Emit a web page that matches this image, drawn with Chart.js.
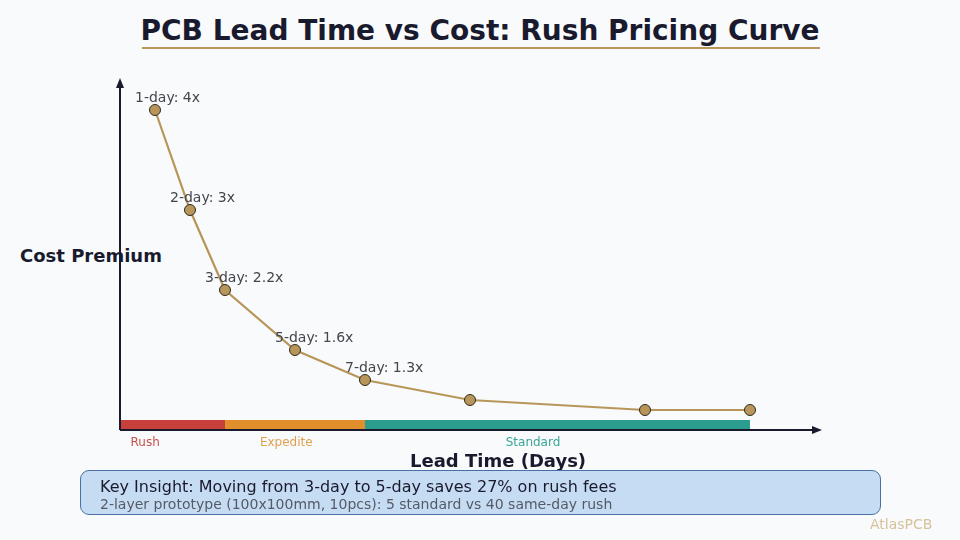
<!DOCTYPE html>
<html>
<head>
<meta charset="utf-8">
<script src="https://cdn.jsdelivr.net/npm/chart.js@4/dist/chart.umd.min.js"></script>
<style>
  html, body { margin: 0; padding: 0; background: #f8fafc; }
  body { width: 960px; height: 540px; position: relative; overflow: hidden; font-family: "DejaVu Sans", sans-serif; }
  #wrap { position: absolute; left: 0; top: 0; width: 960px; height: 540px; z-index: 2; }
  .t { position: absolute; white-space: nowrap; }
  #title { left: 0; width: 960px; top: 14px; text-align: center; font-size: 28px; font-weight: bold; color: #1a1a2e; }
  #uline { position: absolute; left: 142px; width: 678px; top: 47px; height: 2px; background: #b8965a; }
  #ylab { left: 20px; top: 245px; font-size: 18px; font-weight: bold; color: #1a1a2e; z-index: 1; }
  #xlab { left: 410px; top: 450px; font-size: 18px; font-weight: bold; color: #1a1a2e; z-index: 3; }
  #box { position: absolute; left: 80px; top: 470px; width: 801px; height: 45px; background: #c6dcf2; border: 1px solid #4a6fa5; border-radius: 9px; z-index: 3; box-sizing: border-box; }
  #k1 { left: 100px; top: 477px; font-size: 16px; color: #1a1a2e; z-index: 4; }
  #k2 { left: 100px; top: 496px; font-size: 14px; color: #555a66; z-index: 4; }
  #wm { left: 870px; top: 516px; font-size: 14px; color: #d6c29a; z-index: 4; }
</style>
</head>
<body>
<div class="t" id="title">PCB Lead Time vs Cost: Rush Pricing Curve</div>
<div id="uline"></div>
<div class="t" id="ylab">Cost Premium</div>
<div class="t" id="xlab">Lead Time (Days)</div>
<div id="box"></div>
<div class="t" id="k1">Key Insight: Moving from 3-day to 5-day saves 27% on rush fees</div>
<div class="t" id="k2">2-layer prototype (100x100mm, 10pcs): 5 standard vs 40 same-day rush</div>
<div class="t" id="wm">AtlasPCB</div>
<div id="wrap"><canvas id="c" width="960" height="540"></canvas></div>
<script>
// ---- data ----
const leadDays = [1, 2, 3, 5, 7, 10, 15, 18];
const costPremium = [4.0, 3.0, 2.2, 1.6, 1.3, 1.1, 1.0, 1.0];
const pointLabels = ["1-day: 4x", "2-day: 3x", "3-day: 2.2x", "5-day: 1.6x", "7-day: 1.3x", "", "", ""];
const zoneNames = ["Rush", "Expedite", "Standard"];
const zoneStart = [0, 3, 7];
const zoneEnd = [3, 7, 18];
const zoneLabelAt = [0.72, 4.75, 11.8];
const zoneColors = ["#c8403c", "#e08f2c", "#2a9d8f"];
const zoneTextColors = ["#c8504c", "#e0a050", "#3aa596"];
const xRange = [0, 20];
const yRange = [0.8, 4.3];
const bandTop = 0.9;

const overlay = {
  id: 'overlay',
  beforeDatasetsDraw(chart) {
    const ctx = chart.ctx, x = chart.scales.x, y = chart.scales.y;
    ctx.save();
    for (let i = 0; i < zoneNames.length; i++) {
      const x0 = x.getPixelForValue(zoneStart[i]);
      const x1 = x.getPixelForValue(zoneEnd[i]);
      const y0 = y.getPixelForValue(bandTop);
      const y1 = y.getPixelForValue(yRange[0]);
      ctx.fillStyle = zoneColors[i];
      ctx.fillRect(x0, y0, x1 - x0, y1 - y0);
      ctx.fillStyle = zoneTextColors[i];
      ctx.font = '12px "DejaVu Sans"';
      ctx.textAlign = 'center';
      ctx.textBaseline = 'middle';
      ctx.fillText(zoneNames[i], x.getPixelForValue(zoneLabelAt[i]), y1 + 13);
    }
    const ax = x.getPixelForValue(xRange[0]);
    const ay = y.getPixelForValue(yRange[0]);
    const ex = x.getPixelForValue(xRange[1]);
    const ty = y.getPixelForValue(yRange[1]);
    ctx.strokeStyle = '#1a1a2e';
    ctx.fillStyle = '#1a1a2e';
    ctx.lineWidth = 2;
    ctx.beginPath();
    ctx.moveTo(ax, ay); ctx.lineTo(ex - 4, ay);
    ctx.moveTo(ax, ay); ctx.lineTo(ax, ty + 4);
    ctx.stroke();
    ctx.beginPath();
    ctx.moveTo(ex + 2, ay); ctx.lineTo(ex - 8, ay - 4); ctx.lineTo(ex - 8, ay + 4); ctx.closePath(); ctx.fill();
    ctx.beginPath();
    ctx.moveTo(ax, ty - 2); ctx.lineTo(ax - 4, ty + 8); ctx.lineTo(ax + 4, ty + 8); ctx.closePath(); ctx.fill();
    ctx.restore();
  },
  afterDatasetsDraw(chart) {
    const ctx = chart.ctx;
    const meta = chart.getDatasetMeta(0);
    ctx.save();
    ctx.font = '14px "DejaVu Sans"';
    ctx.fillStyle = '#45454d';
    ctx.textAlign = 'left';
    ctx.textBaseline = 'middle';
    meta.data.forEach((pt, i) => {
      if (pointLabels[i]) ctx.fillText(pointLabels[i], pt.x - 20, pt.y - 12);
    });
    ctx.restore();
  }
};

new Chart(document.getElementById('c'), {
  type: 'line',
  data: {
    datasets: [{
      data: leadDays.map((d, i) => ({ x: d, y: costPremium[i] })),
      borderColor: '#b8965a',
      borderWidth: 2.2,
      backgroundColor: '#b8965a',
      pointBackgroundColor: '#b8965a',
      pointBorderColor: '#2e2a20',
      pointBorderWidth: 1,
      pointRadius: 5.5,
      tension: 0,
      fill: false
    }]
  },
  options: {
    responsive: false,
    animation: false,
    layout: { padding: { left: 120, right: 140, top: 80, bottom: 110 } },
    plugins: { legend: { display: false }, tooltip: { enabled: false }, title: { display: false } },
    scales: {
      x: { type: 'linear', min: xRange[0], max: xRange[1], display: false },
      y: { type: 'linear', min: yRange[0], max: yRange[1], display: false }
    }
  },
  plugins: [overlay]
});
</script>
</body>
</html>
